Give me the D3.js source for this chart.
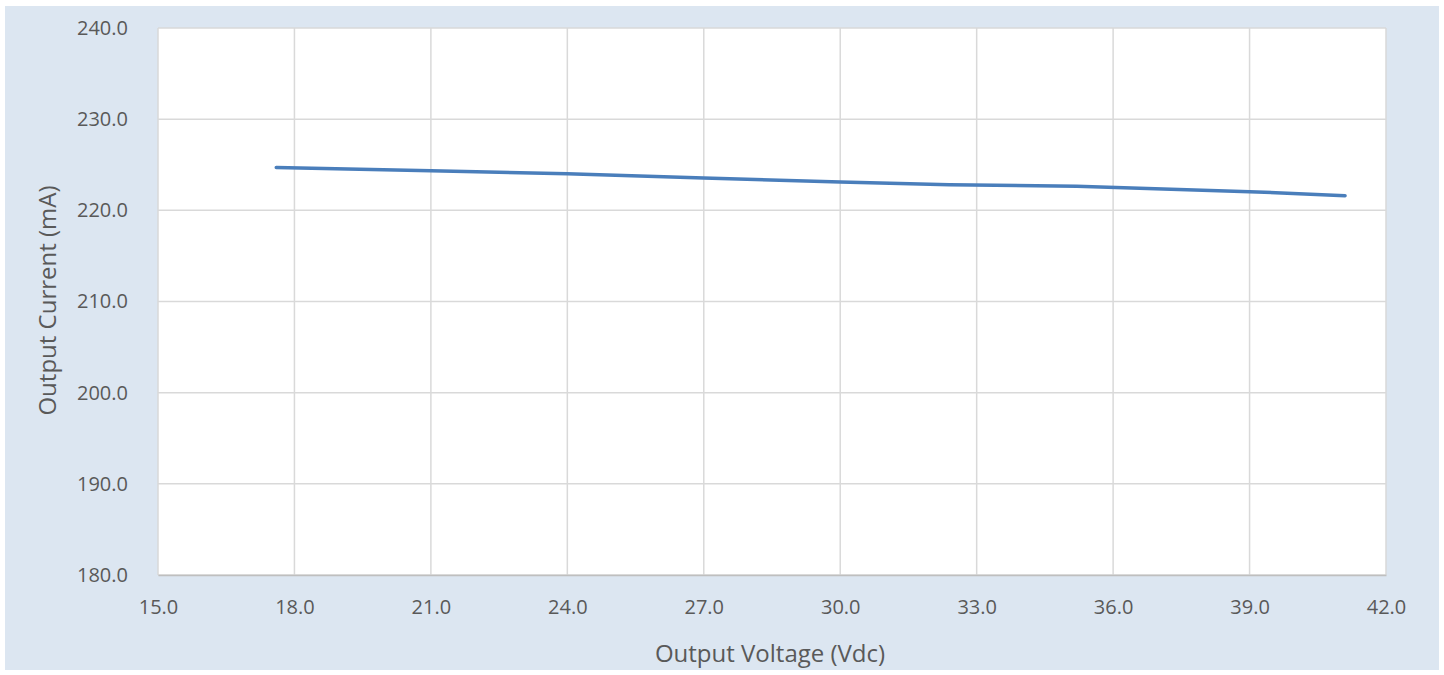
<!DOCTYPE html>
<html><head><meta charset="utf-8">
<script src="https://cdn.jsdelivr.net/npm/d3@7"></script>
<style>body{margin:0;background:#fff;}svg{display:block;}</style>
</head><body>
<svg id="c" width="1444" height="675"></svg>
<script>
const voltage = [17.6, 21.0, 24.0, 27.0, 30.0, 32.4, 35.2, 39.0, 41.1];
const current = [224.7, 224.35, 224.0, 223.55, 223.1, 222.8, 222.65, 222.05, 221.6];
const xTicks = [15, 18, 21, 24, 27, 30, 33, 36, 39, 42];
const yTicks = [180, 190, 200, 210, 220, 230, 240];
const xTitle = "Output Voltage (Vdc)";
const yTitle = "Output Current (mA)";

const svg = d3.select("#c");
svg.append("rect").attr("x",5).attr("y",6).attr("width",1434).attr("height",664).attr("fill","#dce6f1");
const m = {l:158, r:1386, t:28, b:575};
svg.append("rect").attr("x",m.l).attr("y",m.t).attr("width",m.r-m.l).attr("height",m.b-m.t).attr("fill","#fff");
const x = d3.scaleLinear().domain([15,42]).range([m.l,m.r]);
const y = d3.scaleLinear().domain([180,240]).range([m.b,m.t]);
const font = "'Open Sans', Lato, sans-serif";

svg.append("g").selectAll("line").data(xTicks).join("line")
  .attr("x1",d=>x(d)).attr("x2",d=>x(d)).attr("y1",m.t).attr("y2",m.b)
  .attr("stroke","#d9d9d9").attr("stroke-width",1.5);
svg.append("g").selectAll("line").data(yTicks).join("line")
  .attr("x1",m.l).attr("x2",m.r).attr("y1",d=>y(d)).attr("y2",d=>y(d))
  .attr("stroke","#d9d9d9").attr("stroke-width",1.5);

const xa = svg.append("g").attr("transform",`translate(0,${m.b})`)
  .call(d3.axisBottom(x).tickValues(xTicks).tickFormat(d3.format(".1f")).tickSize(0).tickPadding(25));
xa.select(".domain").attr("stroke","#bfbfbf").attr("stroke-width",1.5);
xa.selectAll("text").attr("font-family",font).attr("font-size",20).attr("fill","#595959");
const ya = svg.append("g").attr("transform",`translate(${m.l},0)`)
  .call(d3.axisLeft(y).tickValues(yTicks).tickFormat(d3.format(".1f")).tickSize(0).tickPadding(30));
ya.select(".domain").remove();
ya.selectAll("text").attr("font-family",font).attr("font-size",20).attr("fill","#595959");

const data = voltage.map((v,i)=>[v,current[i]]);
svg.append("path").datum(data)
  .attr("d", d3.line().x(d=>x(d[0])).y(d=>y(d[1])))
  .attr("fill","none").attr("stroke","#4a7ebb").attr("stroke-width",3.5)
  .attr("stroke-linecap","round").attr("stroke-linejoin","round");

svg.append("text").attr("x",(m.l+m.r)/2 - 2).attr("y",662).attr("text-anchor","middle")
  .attr("font-family",font).attr("font-size",24).attr("fill","#595959").text(xTitle);
svg.append("text").attr("transform",`translate(56,${(m.t+m.b)/2-1}) rotate(-90)`).attr("text-anchor","middle")
  .attr("font-family",font).attr("font-size",24).attr("fill","#595959").text(yTitle);
</script>
</body></html>
